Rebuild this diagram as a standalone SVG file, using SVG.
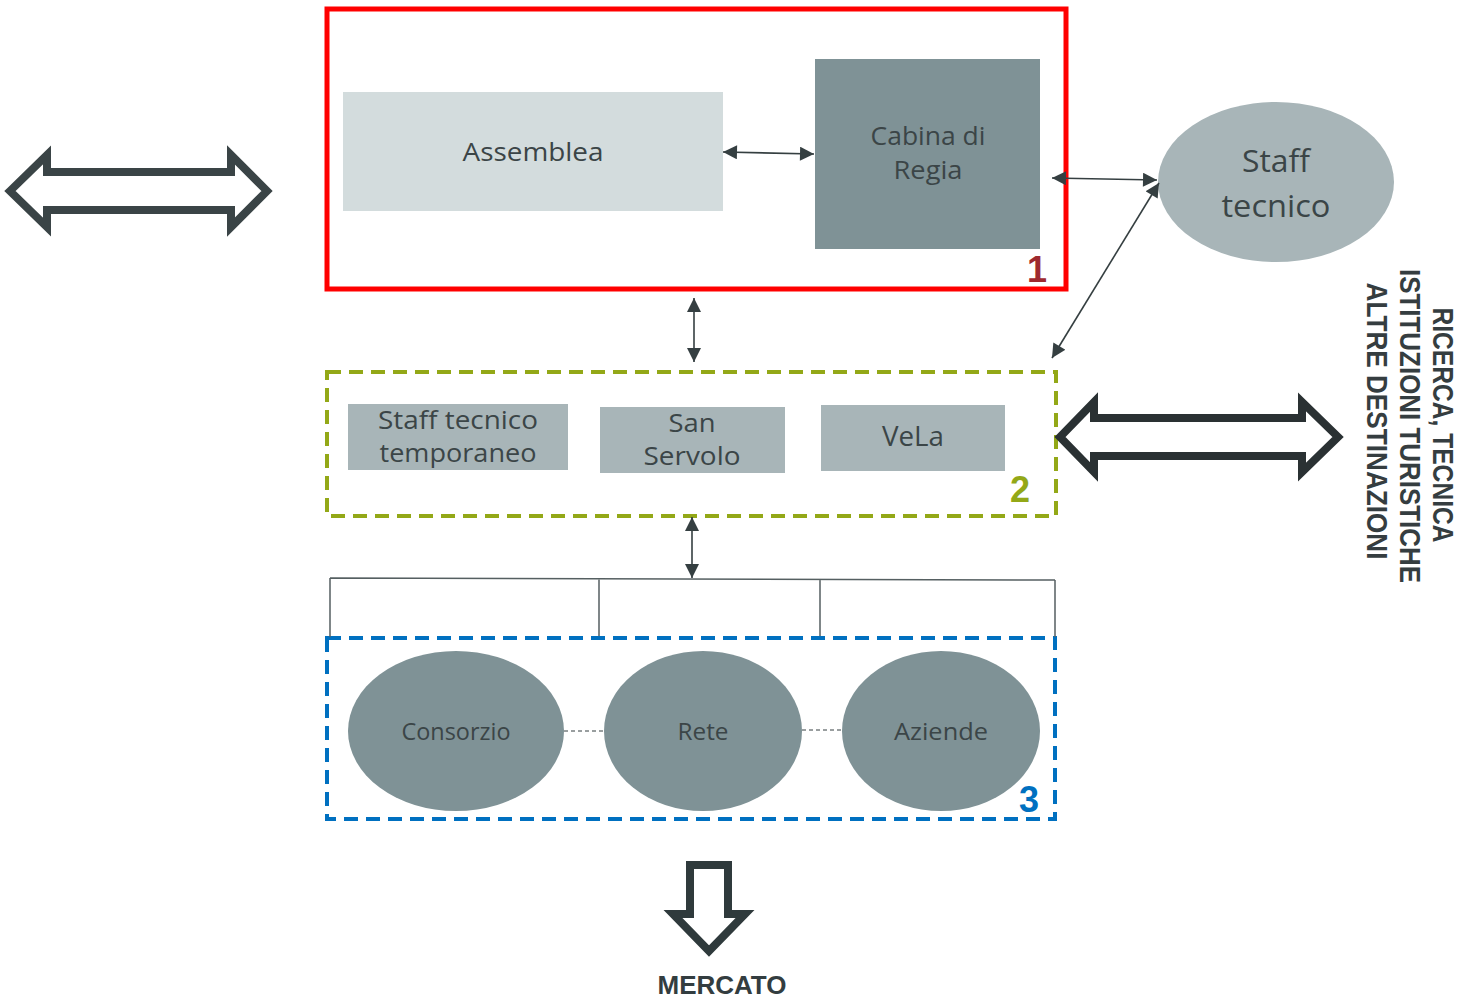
<svg xmlns="http://www.w3.org/2000/svg" width="1460" height="1002" viewBox="0 0 1460 1002">
<style>
.t{font-family:"Open Sans","Noto Sans","Liberation Sans",sans-serif;fill:#3b4547;text-anchor:middle}
.num{font-family:"Liberation Sans",sans-serif;font-weight:bold;font-size:36px;text-anchor:middle}
.conn{stroke:#353f41;stroke-width:1.6;fill:none}
.big{fill:#fff;stroke-width:8;stroke-linejoin:miter;stroke-miterlimit:10}
.br{stroke:#555f61;stroke-width:1.5;fill:none}
.side{font-family:"Liberation Sans",sans-serif;font-weight:bold;font-size:29px;fill:#353d40;text-anchor:middle}
</style>
<defs>
<marker id="ah" viewBox="0 0 14 14" refX="14" refY="7" markerWidth="15" markerHeight="14" markerUnits="userSpaceOnUse" orient="auto-start-reverse">
<path d="M0,0 L14,7 L0,14 Z" fill="#353f41"/>
</marker>
</defs>

<g id="arrow-left">
<polygon class="big" stroke="#3a4446" points="10,191 47,155 47,172 231,172 231,155 267,191 231,227 231,210 47,210 47,227"/>
</g>

<g id="group1">
<rect x="327" y="9" width="739" height="280" fill="none" stroke="#ff0000" stroke-width="5"/>
<text class="num" x="1037" y="282" fill="#9e2a2f">1</text>
</g>
<g id="assemblea">
<rect x="343" y="92" width="380" height="119" fill="#d3dcdd"/>
<text class="t" x="533" y="161" font-size="26" textLength="141" lengthAdjust="spacingAndGlyphs">Assemblea</text>
</g>
<g id="cabina">
<rect x="815" y="59" width="225" height="190" fill="#7f9296"/>
<text class="t" x="928" y="145" font-size="26" textLength="115" lengthAdjust="spacingAndGlyphs">Cabina di</text>
<text class="t" x="928" y="179" font-size="26" textLength="69" lengthAdjust="spacingAndGlyphs">Regia</text>
</g>
<g id="staff">
<ellipse cx="1276" cy="182" rx="118" ry="80" fill="#a8b5b8"/>
<text class="t" x="1276" y="172" font-size="31" textLength="68" lengthAdjust="spacingAndGlyphs">Staff</text>
<text class="t" x="1276" y="217" font-size="31" textLength="109" lengthAdjust="spacingAndGlyphs">tecnico</text>
</g>

<g id="group2">
<rect x="327" y="372" width="729" height="144" fill="none" stroke="#93a817" stroke-width="4" stroke-dasharray="14,8"/>
<text class="num" x="1020" y="502" fill="#93a817">2</text>
</g>
<g id="staff-temp">
<rect x="348" y="404" width="220" height="66" fill="#a8b5b8"/>
<text class="t" x="458" y="429" font-size="25" textLength="160" lengthAdjust="spacingAndGlyphs">Staff tecnico</text>
<text class="t" x="458" y="462" font-size="25" textLength="157" lengthAdjust="spacingAndGlyphs">temporaneo</text>
</g>
<g id="san-servolo">
<rect x="600" y="407" width="185" height="66" fill="#a8b5b8"/>
<text class="t" x="692" y="432" font-size="25" textLength="47" lengthAdjust="spacingAndGlyphs">San</text>
<text class="t" x="692" y="465" font-size="25" textLength="97" lengthAdjust="spacingAndGlyphs">Servolo</text>
</g>
<g id="vela">
<rect x="821" y="405" width="184" height="66" fill="#a8b5b8"/>
<text class="t" x="913" y="446" font-size="27" textLength="62" lengthAdjust="spacingAndGlyphs">VeLa</text>
</g>

<g id="group3">
<rect x="327" y="638" width="728" height="181" fill="none" stroke="#0070c0" stroke-width="4" stroke-dasharray="14,8"/>
<text class="num" x="1029" y="812" fill="#0070c0">3</text>
</g>
<g id="consorzio">
<ellipse cx="456" cy="731" rx="108" ry="80" fill="#7f9296"/>
<text class="t" x="456" y="740" font-size="24" textLength="109" lengthAdjust="spacingAndGlyphs">Consorzio</text>
</g>
<g id="rete">
<ellipse cx="703" cy="731" rx="99" ry="80" fill="#7f9296"/>
<text class="t" x="703" y="740" font-size="24" textLength="51" lengthAdjust="spacingAndGlyphs">Rete</text>
</g>
<g id="aziende">
<ellipse cx="941" cy="731" rx="99" ry="80" fill="#7f9296"/>
<text class="t" x="941" y="740" font-size="24" textLength="94" lengthAdjust="spacingAndGlyphs">Aziende</text>
</g>

<g id="arrow-right">
<polygon class="big" stroke="#2a3133" points="1060,437 1094,402 1094,418 1302,418 1302,402 1338,437 1302,472 1302,456 1094,456 1094,472"/>
</g>
<g id="side-label">
<g transform="translate(1443,425) rotate(90)"><text class="side" x="0" y="10" textLength="235" lengthAdjust="spacingAndGlyphs">RICERCA, TECNICA</text></g>
<g transform="translate(1410,426) rotate(90)"><text class="side" x="0" y="10" textLength="314" lengthAdjust="spacingAndGlyphs">ISTITUZIONI TURISTICHE</text></g>
<g transform="translate(1377,421) rotate(90)"><text class="side" x="0" y="10" textLength="277" lengthAdjust="spacingAndGlyphs">ALTRE DESTINAZIONI</text></g>
</g>

<g id="arrow-down">
<polygon class="big" stroke="#2f3a3c" points="690,865 728,865 728,914 745,914 709,951 673,914 690,914"/>
<text x="722" y="994" font-family="Liberation Sans,sans-serif" font-weight="bold" font-size="26" fill="#333d40" text-anchor="middle" textLength="129" lengthAdjust="spacingAndGlyphs">MERCATO</text>
</g>

<g id="connectors">
<line class="conn" x1="723" y1="152" x2="814" y2="154" marker-start="url(#ah)" marker-end="url(#ah)"/>
<line class="conn" x1="1052" y1="178" x2="1157" y2="180" marker-start="url(#ah)" marker-end="url(#ah)"/>
<line class="conn" x1="1159" y1="183" x2="1052" y2="358" marker-start="url(#ah)" marker-end="url(#ah)"/>
<line class="conn" x1="694" y1="298" x2="694" y2="362" marker-start="url(#ah)" marker-end="url(#ah)"/>
<line class="conn" x1="692" y1="517" x2="692" y2="578" marker-start="url(#ah)" marker-end="url(#ah)"/>
<path class="br" d="M330,578 L1055,580 M330,578 L330,637 M599,579 L599,636 M820,580 L820,636 M1055,580 L1055,637"/>
<line x1="564" y1="731" x2="604" y2="731" stroke="#353f41" stroke-width="1" stroke-dasharray="4,3"/>
<line x1="802" y1="730" x2="842" y2="730" stroke="#353f41" stroke-width="1" stroke-dasharray="4,3"/>
</g>
</svg>
